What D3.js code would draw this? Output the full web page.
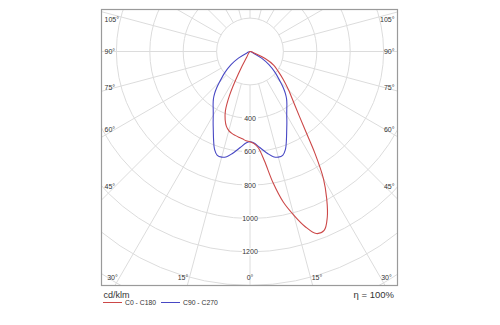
<!DOCTYPE html>
<html><head><meta charset="utf-8">
<script src="https://cdn.jsdelivr.net/npm/d3@7"></script>
<style>html,body{margin:0;padding:0;background:#fff;}svg{display:block;}</style>
</head><body>
<svg id="chart" width="500" height="325"></svg>
<script>
// ---- data ----
const gammas   = [0,2.5,5,7.5,10,12.5,15,17.5,20,22.5,25,27.5,30,32.5,35,37.5,40,42.5,45,50,55,60,65,70,75,80,85,90];
const c0Values   = [540,552,580,660,800,925,1015,1100,1160,1160,1095,995,880,725,578,482,416,366,328,260,205,165,100,30,0,0,0,0];
const c180Values = [540,535,525,518,510,502,490,470,435,385,290,150,40,0,0,0,0,0,0,0,0,0,0,0,0,0,0,0];
const c90Values  = [540,548,570,595,622,645,655,652,622,570,520,478,440,410,385,360,330,295,257,197,140,80,20,0,0,0,0,0];
const c270Values = c90Values;
const ringValues = [200,400,600,800,1000,1200,1400,1600,1800,2000];
const ringLabels = [400,600,800,1000,1200];
const leftAngles = [105,90,75,60,45];
const bottomAngles = [30,15,0,15,30];
const seriesNames = ["C0 - C180","C90 - C270"];
const seriesColors = ["#cc4848","#4848c4"];

// ---- layout ----
const svg = d3.select("#chart");
const frame = {x:101.5, y:9.5, w:296, h:276};
const cx = 250, cy = 51.5;
const r = d3.scaleLinear().domain([0,200]).range([0,33.4]);
const rad = d => d*Math.PI/180;

svg.append("rect").attr("width",500).attr("height",325).attr("fill","#fff");
svg.append("clipPath").attr("id","clip").append("rect")
  .attr("x",frame.x).attr("y",frame.y).attr("width",frame.w).attr("height",frame.h);

const grid = svg.append("g").attr("clip-path","url(#clip)");
// radial lines every 15 deg
d3.range(0,360,15).forEach(a=>{
  const s=Math.sin(rad(a)), c=Math.cos(rad(a));
  grid.append("line")
    .attr("x1",cx+r(200)*s).attr("y1",cy+r(200)*c)
    .attr("x2",cx+r(2400)*s).attr("y2",cy+r(2400)*c)
    .attr("stroke","#dcdcdc").attr("stroke-width",1);
});
ringValues.forEach(v=>{
  grid.append("circle").attr("cx",cx).attr("cy",cy).attr("r",r(v))
    .attr("fill","none").attr("stroke","#dcdcdc").attr("stroke-width",1);
});

// ring labels
const lbl = svg.append("g").attr("font-family","Liberation Sans, Arial, sans-serif")
  .attr("font-size",7).attr("fill","#333");
ringLabels.forEach(v=>{
  const y = cy + r(v);
  lbl.append("rect").attr("x",cx-8).attr("y",y-3.5).attr("width",16).attr("height",7).attr("fill","#fff");
  lbl.append("text").attr("x",cx).attr("y",y).attr("dy","0.35em").attr("text-anchor","middle").text(v);
});

// angle labels
leftAngles.forEach(a=>{
  let y = cy + 135*Math.cos(rad(a))/Math.sin(rad(a));
  y = Math.max(y, 19.5);
  lbl.append("text").attr("x",frame.x+3).attr("y",y).attr("dy","0.35em").text(a+"°");
  lbl.append("text").attr("x",frame.x+frame.w-3).attr("y",y).attr("dy","0.35em")
    .attr("text-anchor","end").text(a+"°");
});
bottomAngles.forEach((a,i)=>{
  const sign = i<2 ? -1 : 1;
  let x = cx + sign*250*Math.tan(rad(a));
  x = Math.max(frame.x+11, Math.min(frame.x+frame.w-11, x));
  lbl.append("text").attr("x",x).attr("y",278).attr("dy","0.35em")
    .attr("text-anchor","middle").text(a+"°");
});

// frame
svg.append("rect").attr("x",frame.x).attr("y",frame.y).attr("width",frame.w).attr("height",frame.h)
  .attr("fill","none").attr("stroke","#9a9a9a").attr("stroke-width",1.2);

// curves
function buildPoints(rightVals, leftVals){
  const pts=[];
  const push=(g,v,side)=>{
    const p=[cx+side*r(v)*Math.sin(rad(g)), cy+r(v)*Math.cos(rad(g))];
    const last=pts[pts.length-1];
    if(!last || Math.hypot(last[0]-p[0],last[1]-p[1])>0.01) pts.push(p);
  };
  gammas.forEach((g,i)=>push(g,rightVals[i],1));
  for(let i=gammas.length-1;i>0;i--) push(gammas[i],leftVals[i],-1);
  return pts;
}
const line = d3.line().curve(d3.curveCatmullRomClosed.alpha(0.5));
const curves = [buildPoints(c0Values,c180Values), buildPoints(c90Values,c270Values)];
[1,0].forEach(i=>{
  svg.append("path").attr("d",line(curves[i])).attr("fill","none")
    .attr("stroke",seriesColors[i]).attr("stroke-width",1.1);
});

// footer
const ft = svg.append("g").attr("font-family","Liberation Sans, Arial, sans-serif").attr("fill","#333");
ft.append("text").attr("x",103.5).attr("y",295).attr("dy","0.35em").attr("font-size",9).text("cd/klm");
ft.append("text").attr("x",394).attr("y",295).attr("dy","0.35em").attr("font-size",9.5)
  .attr("text-anchor","end").text("η = 100%");
const legX = [103,161];
seriesNames.forEach((n,i)=>{
  ft.append("line").attr("x1",legX[i]).attr("x2",legX[i]+19).attr("y1",302.5).attr("y2",302.5)
    .attr("stroke",seriesColors[i]).attr("stroke-width",1);
  ft.append("text").attr("x",legX[i]+22).attr("y",302.5).attr("dy","0.35em").attr("font-size",6.8).text(n);
});
</script>
</body></html>
